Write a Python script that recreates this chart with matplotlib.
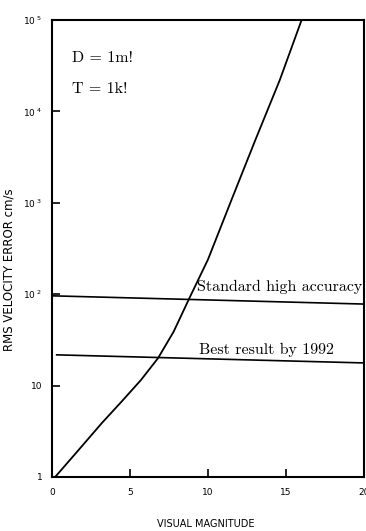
import matplotlib.pyplot as plt
import numpy as np

# curve: RMS velocity error vs visual magnitude
mag = [0.2, 1.5, 3.2, 4.5, 5.7, 6.8, 7.8, 8.8, 10.0, 11.5, 13.0, 14.6, 16.0]
err = [1.0, 1.8, 3.9, 6.8, 11.5, 20, 39, 90, 240, 1070, 4700, 22000, 100000]

# reference levels (scan is slightly tilted, so ends differ)
std_x = [0, 20]
std_y = [96, 78]
best_x = [0.3, 20]
best_y = [21.7, 17.7]

xticks = [0, 5, 10, 15, 20]
xtick_labels = ["0", "5", "10", "15", "20"]
yticks = [1, 10, 100, 1000, 10000, 100000]
ytick_labels = ["1", "10", r"$10^{\ 2}$", r"$10^{\ 3}$", r"$10^{\ 4}$", r"$10^{\ 5}$"]

fig = plt.figure(figsize=(3.66, 5.31), dpi=100)
ax = fig.add_axes([52 / 366, 1 - 477 / 531, 312 / 366, 457 / 531])

ax.plot(mag, err, color="black", lw=1.3)
ax.plot(std_x, std_y, color="black", lw=1.2)
ax.plot(best_x, best_y, color="black", lw=1.2)

ax.set_yscale("log")
ax.set_xlim(0, 20)
ax.set_ylim(1, 1e5)

ax.set_xticks(xticks)
ax.set_xticklabels(xtick_labels)
ax.set_yticks(yticks)
ax.set_yticklabels(ytick_labels)
ax.minorticks_off()
ax.tick_params(direction="in", length=6, width=1.2, labelsize=6.5)
ax.tick_params(axis="x", pad=8)
ax.tick_params(axis="y", pad=7)

for s in ax.spines.values():
    s.set_linewidth(1.5)

serif = "cmr10"
ax.text(1.3, 3.5e4, "D = 1m!", family=serif, fontsize=11.5)
ax.text(1.3, 1.6e4, "T = 1k!", family=serif, fontsize=11.5)
ax.text(19.9, 100, "Standard high accuracy", family=serif, fontsize=11.5, ha="right", va="bottom")
ax.text(9.4, 20.5, "Best result by 1992", family=serif, fontsize=11.5, va="bottom")

ax.set_xlabel("VISUAL MAGNITUDE", fontsize=7)
ax.xaxis.set_label_coords((206 - 52) / 312, -(519 - 477) / 457)
ax.set_ylabel("RMS VELOCITY ERROR cm/s", fontsize=8.5)
ax.yaxis.set_label_coords(-(52 - 16) / 312, (477 - 270) / 457)

fig.savefig("out.png", dpi=100)
